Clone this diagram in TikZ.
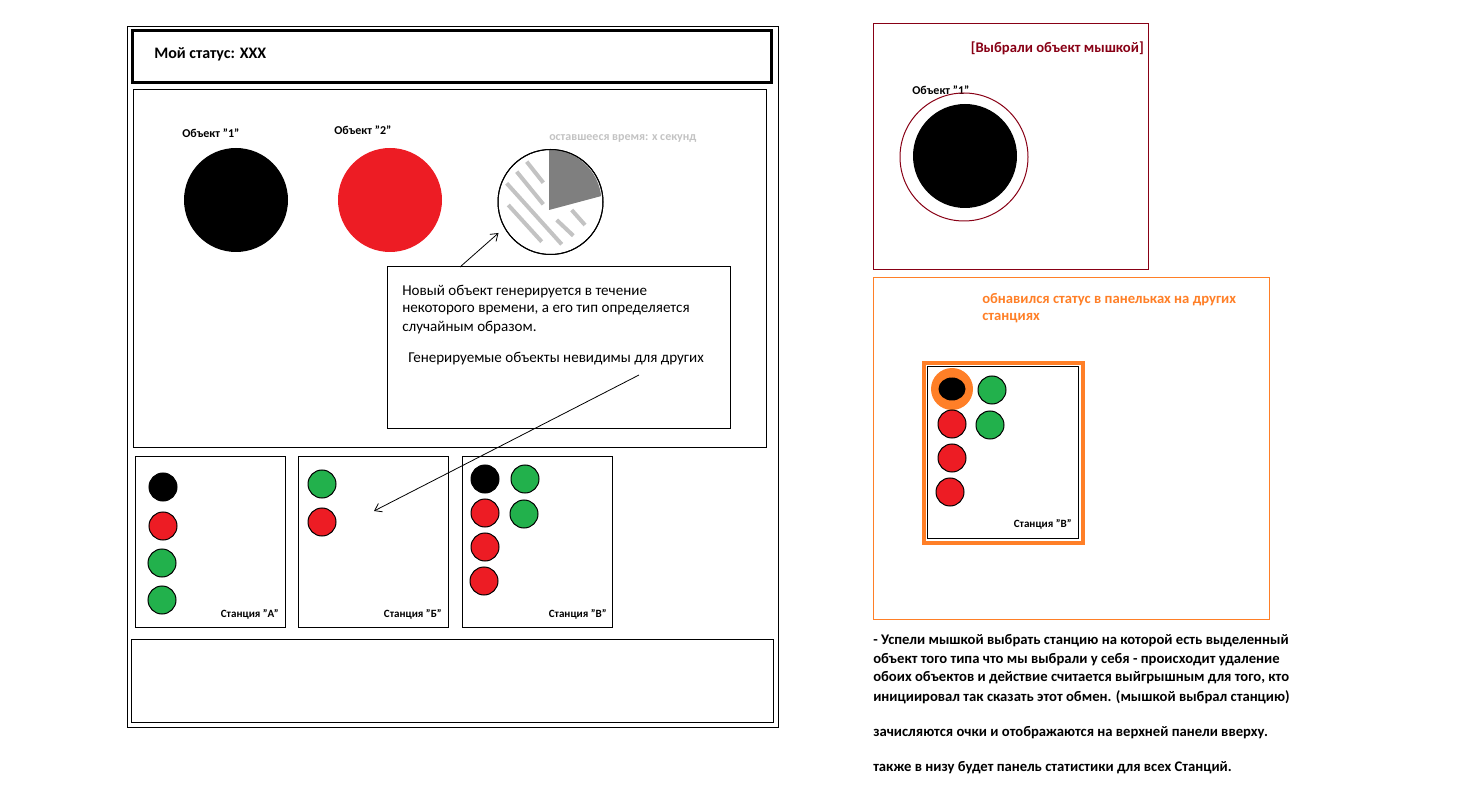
\documentclass[tikz,border=0pt]{standalone}
\usepackage{fontspec}
\setmainfont{Carlito}
\usetikzlibrary{arrows.meta}
\definecolor{objred}{HTML}{ED1C24}
\definecolor{objgreen}{HTML}{22B14C}
\definecolor{selred}{HTML}{880015}
\definecolor{updorange}{HTML}{FF7F27}
\definecolor{timegrey}{HTML}{7F7F7F}
\definecolor{hatchgrey}{HTML}{C3C3C3}
\tikzset{
  frame/.style={line width=0.75pt},
  lbl/.style={inner sep=0pt, anchor=west, font=\bfseries\fontsize{9}{10}\selectfont},
  stlbl/.style={inner sep=0pt, anchor=east, font=\bfseries\fontsize{8.3}{9}\selectfont},
  note/.style={inner sep=0pt, anchor=west, font=\fontsize{11.3}{13}\selectfont},
  boldnote/.style={inner sep=0pt, anchor=west, font=\bfseries\fontsize{11}{13}\selectfont},
  chip/.style={draw=black, line width=0.75pt},
  hatch/.style={hatchgrey, line width=3pt},
  pointer/.style={line width=0.6pt, -{Straight Barb[length=5pt,width=7pt]}},
}
\begin{document}
\begin{tikzpicture}[x=0.75pt,y=-0.75pt]
\useasboundingbox (0,0) rectangle (1478,791);
% client window
\draw[frame] (127,27) rectangle (778,727);
\draw[line width=2.25pt] (132,31) rectangle (771,83);
\node[boldnote, font=\bfseries\fontsize{12}{14}\selectfont] (status) at (154,54) {Мой статус: XXX};
\draw[frame] (133,90) rectangle (766,448);
% objects
\node[lbl] (obj1lbl) at (182,133) {Объект "1"};
\fill[black] (236,200) circle[radius=52];
\node[lbl] (obj2lbl) at (334,130) {Объект "2"};
\fill[objred] (390,200) circle[radius=52];
% timer
\node[lbl, text=hatchgrey] (timelbl) at (549,139) {оставшееся время: х секунд};
\draw[frame, fill=white] (550.5,202) circle[radius=52.5];
\fill[timegrey] (549,210) -- (549,149.5) arc[start angle=-90, end angle=-6.5, radius=52.5] -- cycle;
\draw[hatch] (526.7,161.7) -- (543.3,182.7);
\draw[hatch] (516.7,171.7) -- (543.3,204.3);
\draw[hatch] (506.7,183.3) -- (561.7,244.3);
\draw[hatch] (508.3,205) -- (541.7,241.7);
\draw[hatch] (556.7,220) -- (573.3,235.7);
\draw[hatch] (571.7,210) -- (585,225);
\draw[frame] (550.5,202) circle[radius=52.5];
% generation note
\draw[frame] (387,267) rectangle (730,429);
\node[note] (gen1) at (402,292) {Новый объект генерируется в течение};
\node[note] (gen2) at (402,310) {некоторого времени, а его тип определяется};
\node[note] (gen3) at (402,328) {случайным образом.};
\node[note] (gen4) at (408,359) {Генерируемые объекты невидимы для других};
\coordinate (genfrom) at (460,267);
\coordinate (timerin) at (498.5,233);
\draw[pointer] (genfrom) -- (timerin);
\coordinate (hintfrom) at (639,375);
\coordinate (hintto) at (374,511);
\draw[pointer] (hintfrom) -- (hintto);
% stations
\draw[frame] (135,457) rectangle (285,627);
\filldraw[chip, fill=black] (163,487) circle[radius=14];
\filldraw[chip, fill=objred] (163,526) circle[radius=14];
\filldraw[chip, fill=objgreen] (162,563) circle[radius=14];
\filldraw[chip, fill=objgreen] (162,600) circle[radius=14];
\node[stlbl] (stA) at (279,614) {Станция "А"};
\draw[frame] (298,457) rectangle (448,627);
\filldraw[chip, fill=objgreen] (322,484) circle[radius=14];
\filldraw[chip, fill=objred] (322,522) circle[radius=14];
\node[stlbl] (stB) at (442,614) {Станция "Б"};
\draw[frame] (462,457) rectangle (612,627);
\filldraw[chip, fill=black] (485,479) circle[radius=14];
\filldraw[chip, fill=objgreen] (525,479) circle[radius=14];
\filldraw[chip, fill=objred] (485,513) circle[radius=14];
\filldraw[chip, fill=objgreen] (524,514) circle[radius=14];
\filldraw[chip, fill=objred] (485,547) circle[radius=14];
\filldraw[chip, fill=objred] (484,581) circle[radius=14];
\node[stlbl] (stV) at (607,614) {Станция "В"};
% statistics panel
\draw[frame] (131,639) rectangle (773,722);
% selected object
\draw[frame, selred] (873,24) rectangle (1148,270);
\node[boldnote, anchor=east, text=selred] (seltitle) at (1144,48) {[Выбрали объект мышкой]};
\node[lbl] (selobj) at (912,90) {Объект "1"};
\draw[frame, selred] (964,157) circle[radius=64];
\fill[black] (965,156) circle[radius=52];
% updated status
\draw[frame, updorange] (873,278) rectangle (1269,619);
\node[boldnote, text=updorange] (upd1) at (982,300) {обнавился статус в панельках на других};
\node[boldnote, text=updorange] (upd2) at (982,318) {станциях};
\draw[line width=3pt, updorange] (923.5,363.5) rectangle (1082.5,542.5);
\draw[frame] (927,367) rectangle (1078,538);
\fill[updorange] (952,389) circle[radius=21];
\fill[black] (952,389) ellipse[x radius=13.5, y radius=11.5];
\filldraw[chip, fill=objgreen] (992,390) circle[radius=14];
\filldraw[chip, fill=objred] (952,424) circle[radius=14];
\filldraw[chip, fill=objgreen] (990,425) circle[radius=14];
\filldraw[chip, fill=objred] (952,458) circle[radius=14];
\filldraw[chip, fill=objred] (950,492) circle[radius=14];
\node[stlbl] (stV2) at (1072,524) {Станция "В"};
% rules
\node[boldnote] (rule1) at (873,641) {- Успели мышкой выбрать станцию на которой есть выделенный};
\node[boldnote] (rule2) at (873,660) {объект того типа что мы выбрали у себя - происходит удаление};
\node[boldnote] (rule3) at (873,678) {обоих объектов и действие считается выйгрышным для того, кто};
\node[boldnote] (rule4) at (873,697) {инициировал так сказать этот обмен. (мышкой выбрал станцию)};
\node[boldnote] (rule5) at (873,733) {зачисляются очки и отображаются на верхней панели вверху.};
\node[boldnote] (rule6) at (873,768) {также в низу будет панель статистики для всех Станций.};
\end{tikzpicture}
\end{document}
